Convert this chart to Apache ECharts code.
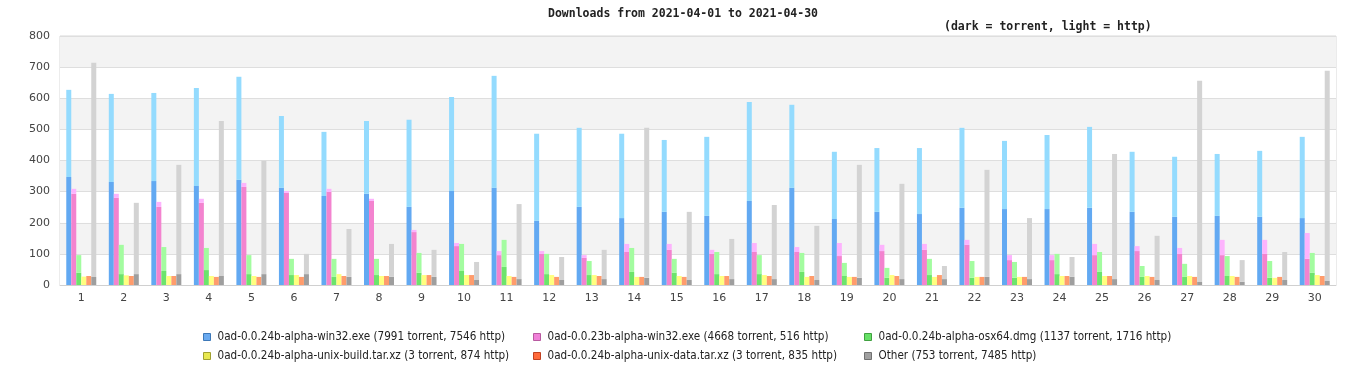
<!DOCTYPE html>
<html>
<head>
<meta charset="utf-8">
<script src="https://cdn.jsdelivr.net/npm/echarts@6/dist/echarts.min.js"></script>
<style>
html,body{margin:0;padding:0;background:#fff;}
#chart{width:1366px;height:380px;}
</style>
</head>
<body>
<div id="chart"></div>
<script>
var days = ['1','2','3','4','5','6','7','8','9','10','11','12','13','14','15','16','17','18','19','20','21','22','23','24','25','26','27','28','29','30'];
var yTicks = [0,100,200,300,400,500,600,700,800];

var seriesNames = [
  '0ad-0.0.24b-alpha-win32.exe (7991 torrent, 7546 http)',
  '0ad-0.0.23b-alpha-win32.exe (4668 torrent, 516 http)',
  '0ad-0.0.24b-alpha-osx64.dmg (1137 torrent, 1716 http)',
  '0ad-0.0.24b-alpha-unix-build.tar.xz (3 torrent, 874 http)',
  '0ad-0.0.24b-alpha-unix-data.tar.xz (3 torrent, 835 http)',
  'Other (753 torrent, 7485 http)'
];

// win32 24b
var win32Torrent = [347,331,334,318,338,312,286,293,251,302,312,206,251,215,235,222,270,312,212,235,228,248,244,244,248,235,219,222,219,215];
var win32Http    = [280,283,283,315,331,231,206,234,280,302,360,280,254,271,231,254,318,267,216,205,212,257,219,238,260,193,193,199,212,261];
// 23b
var w23Torrent = [293,280,251,264,315,296,299,270,170,125,96,100,87,106,113,100,106,106,93,109,113,129,80,80,96,109,100,96,100,84];
var w23Http    = [16,13,16,13,13,6,10,7,7,10,13,9,9,26,19,13,29,16,42,20,19,16,16,16,36,16,19,49,45,83];
// osx
var osxTorrent = [39,35,45,48,35,32,26,32,39,45,58,35,32,42,39,35,35,42,29,23,32,23,23,35,42,26,26,29,23,39];
var osxHttp    = [57,94,77,71,61,52,58,52,64,87,87,65,45,77,45,71,61,61,42,32,52,54,51,65,64,35,42,64,54,64];
// unix-build
var ubTorrent = [0,0,0,0,0,0,0,0,0,0,0,0,0,0,0,0,0,0,0,0,0,0,0,0,0,0,0,0,0,0];
var ubHttp    = [27,31,29,29,29,32,35,29,32,32,29,32,32,26,29,29,32,26,26,32,26,26,26,29,29,29,29,29,23,32];
// unix-data
var udTorrent = [0,0,0,0,0,0,0,0,0,0,0,0,0,0,0,0,0,0,0,0,0,0,0,0,0,0,0,0,0,0];
var udHttp    = [29,29,29,26,26,26,29,29,32,32,26,26,29,26,26,29,29,29,26,29,32,26,26,29,29,26,26,26,26,29];
// other
var otherTorrent = [26,35,35,29,35,35,26,26,26,16,19,16,19,23,16,19,19,16,23,19,19,26,19,26,19,16,10,10,16,13];
var otherHttp    = [688,229,351,498,364,65,154,106,87,58,241,74,94,482,219,129,238,174,363,306,42,344,196,64,402,142,646,70,90,675];

var darkColors  = ['#62a9f2','#f383cf','#6ce46c','#e4e44a','#ff6a3a','#9e9e9e'];
var lightColors = ['#94dbfe','#fdb3fd','#a3fca0','#ffff80','#ff9c6c','#d3d3d3'];
var legendColors = ['#6aaaf0','#f080d8','#66e066','#e8e850','#ff6a3a','#a0a0a0'];
var legendBorders = ['#3d78b8','#b85aa0','#40a040','#a0a030','#c04020','#707070'];

var torrentData = [win32Torrent, w23Torrent, osxTorrent, ubTorrent, udTorrent, otherTorrent];
var httpData    = [win32Http, w23Http, osxHttp, ubHttp, udHttp, otherHttp];

var series = [];
for (var i = 0; i < 6; i++) {
  series.push({
    name: seriesNames[i], type: 'bar', stack: 'g' + i,
    data: torrentData[i], barWidth: 5, barGap: '0%',
    itemStyle: { color: darkColors[i] }, animation: false
  });
  series.push({
    name: seriesNames[i], type: 'bar', stack: 'g' + i,
    data: httpData[i], barWidth: 5, barGap: '0%',
    itemStyle: { color: lightColors[i] }, animation: false
  });
}

function legendCol(idx, left) {
  return {
    orient: 'vertical', left: left, top: 326, itemGap: 7,
    itemWidth: 7, itemHeight: 7, icon: 'rect',
    selectedMode: false,
    textStyle: { fontFamily: 'DejaVu Sans Condensed, DejaVu Sans', fontSize: 11.6, color: '#222', padding: [0,0,0,2] },
    data: idx.map(function (k) {
      return { name: seriesNames[k], itemStyle: { color: legendColors[k], borderColor: legendBorders[k], borderWidth: 1 } };
    })
  };
}

var chart = echarts.init(document.getElementById('chart'), null, { renderer: 'canvas' });
chart.setOption({
  animation: false,
  backgroundColor: '#fff',
  title: [
    { text: 'Downloads from 2021-04-01 to 2021-04-30', left: 'center', top: 3,
      textStyle: { fontFamily: 'DejaVu Sans Mono', fontWeight: 'bold', fontSize: 11.5, color: '#222' } },
    { text: '(dark = torrent, light = http)', left: 939, top: 16,
      textStyle: { fontFamily: 'DejaVu Sans Mono', fontWeight: 'bold', fontSize: 11.5, color: '#222' } }
  ],
  legend: [legendCol([0,3], 198), legendCol([1,4], 528), legendCol([2,5], 859)],
  grid: { left: 60, right: 30, top: 36, bottom: 95, show: true, borderColor: '#d8d8d8', borderWidth: 1, backgroundColor: 'transparent' },
  xAxis: {
    type: 'category', data: days,
    axisLine: { show: true, lineStyle: { color: '#d0d0d0' } },
    axisTick: { show: false },
    axisLabel: { color: '#444', fontFamily: 'DejaVu Sans', fontSize: 11, margin: 8 }
  },
  yAxis: {
    type: 'value', min: yTicks[0], max: yTicks[yTicks.length - 1], interval: 100,
    axisLine: { show: false }, axisTick: { show: false },
    axisLabel: { color: '#444', fontFamily: 'DejaVu Sans', fontSize: 11, margin: 10 },
    splitLine: { show: true, lineStyle: { color: '#dedede' } },
    splitArea: { show: true, areaStyle: { color: ['#ffffff', '#f3f3f3'] } }
  },
  series: series
});
</script>
</body>
</html>
